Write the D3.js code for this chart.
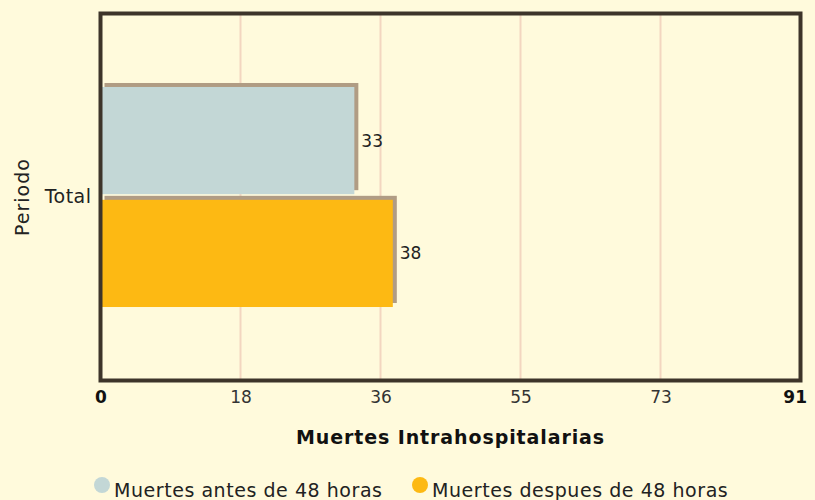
<!DOCTYPE html>
<html lang="es">

<head>
    <meta charset="UTF-8">
    <title>Muertes Intrahospitalarias</title>
    <style>
        body {
            padding: 0;
            margin: 0;
            background: #fffadc;
        }

        text {
            font-family: "DejaVu Sans", Verdana, sans-serif;
            fill: #222;
        }
    </style>
</head>

<body>
    <script src="https://d3js.org/d3.v7.min.js"></script>
    <script>
        // datos
        const categorias = ['Total']
        const series = ['Muertes antes de 48 horas', 'Muertes despues de 48 horas']
        const antes48 = [33]
        const despues48 = [38]
        const ejeMax = 91
        const ticks = [0, 18.2, 36.4, 54.6, 72.8, 91]

        const colores = ['#c3d7d6', '#fdb913']
        const valores = [antes48, despues48]

        const width = 815
        const height = 500
        const margin = { left: 100.5, right: 14.5, top: 13.5, bottom: 119.5 }

        const svg = d3.select('body')
            .append('svg')
            .attr('width', width)
            .attr('height', height)

        svg.append('rect')
            .attr('width', width)
            .attr('height', height)
            .attr('fill', '#fffadc')

        // escalas
        let x = d3.scaleLinear().domain([0, ejeMax]).range([margin.left, width - margin.right])
        let y = d3.scaleBand().domain(categorias)
            .range([margin.top, height - margin.bottom])
            .paddingInner(0).paddingOuter(0.334)
        let ySerie = d3.scaleBand().domain(series).range([0, y.bandwidth()]).paddingInner(0.05)

        // rejilla
        svg.append('g')
            .selectAll('line')
            .data(ticks.slice(1, -1))
            .enter()
            .append('line')
            .attr('x1', d => x(d))
            .attr('x2', d => x(d))
            .attr('y1', margin.top)
            .attr('y2', height - margin.bottom)
            .attr('stroke', '#f3d6c0')
            .attr('stroke-width', 2)

        // barras con sombra
        const filas = []
        categorias.forEach((c, i) => {
            series.forEach((s, j) => {
                filas.push({ cat: c, serie: s, value: valores[j][i], color: colores[j] })
            })
        })

        let barras = svg.append('g')
            .selectAll('g')
            .data(filas)
            .enter()
            .append('g')
            .attr('transform', d => `translate(0,${y(d.cat) + ySerie(d.serie)})`)

        barras.append('rect')
            .attr('x', x(0) + 4)
            .attr('y', -4)
            .attr('width', d => x(d.value) - x(0))
            .attr('height', ySerie.bandwidth())
            .attr('fill', '#b09c84')

        barras.append('rect')
            .attr('x', x(0))
            .attr('y', 0)
            .attr('width', d => x(d.value) - x(0))
            .attr('height', ySerie.bandwidth())
            .attr('fill', d => d.color)

        barras.append('text')
            .attr('x', d => x(d.value) + 7)
            .attr('y', ySerie.bandwidth() / 2)
            .attr('dy', '0.35em')
            .attr('font-size', 17)
            .text(d => d.value)

        // marco
        svg.append('rect')
            .attr('x', margin.left)
            .attr('y', margin.top)
            .attr('width', width - margin.left - margin.right)
            .attr('height', height - margin.top - margin.bottom)
            .attr('fill', 'none')
            .attr('stroke', '#3d342a')
            .attr('stroke-width', 4)

        // eje x
        let ejeX = svg.append('g')
            .attr('transform', `translate(0,${height - margin.bottom})`)
            .call(d3.axisBottom(x).tickValues(ticks).tickFormat(d3.format('.0f')).tickSize(0).tickPadding(10))
        ejeX.select('.domain').remove()
        ejeX.selectAll('text')
            .attr('font-size', 17)
            .attr('font-family', '"DejaVu Sans", Verdana, sans-serif')
            .attr('font-weight', (d, i) => (i === 0 || i === ticks.length - 1) ? 'bold' : 'normal')
            .attr('text-anchor', (d, i) => i === ticks.length - 1 ? 'end' : 'middle')
            .attr('dx', (d, i) => i === ticks.length - 1 ? 6 : 0)
            .style('fill', (d, i) => (i === 0 || i === ticks.length - 1) ? '#111' : '#333')

        // eje y
        let ejeY = svg.append('g')
            .attr('transform', `translate(${margin.left},0)`)
            .call(d3.axisLeft(y).tickSize(0).tickPadding(9))
        ejeY.select('.domain').remove()
        ejeY.selectAll('text')
            .attr('font-size', 19)
            .attr('letter-spacing', 0.5)
            .attr('font-family', '"DejaVu Sans", Verdana, sans-serif')
            .style('fill', '#222')

        // titulos
        svg.append('text')
            .attr('x', (margin.left + width - margin.right) / 2)
            .attr('y', 444)
            .attr('text-anchor', 'middle')
            .attr('font-size', 19)
            .attr('letter-spacing', 0.9)
            .attr('font-weight', 'bold')
            .style('fill', '#111')
            .text('Muertes Intrahospitalarias')

        svg.append('text')
            .attr('transform', 'translate(29,197) rotate(-90)')
            .attr('text-anchor', 'middle')
            .attr('font-size', 19)
            .attr('letter-spacing', 1)
            .text('Periodo')

        // leyenda
        const leyendaX = [102, 420]
        let leyenda = svg.append('g')
            .selectAll('g')
            .data(series)
            .enter()
            .append('g')
            .attr('transform', (d, i) => `translate(${leyendaX[i]},485)`)

        leyenda.append('circle')
            .attr('r', 8)
            .attr('fill', (d, i) => colores[i])

        leyenda.append('text')
            .attr('x', 12)
            .attr('y', 12)
            .attr('font-size', 19)
            .attr('letter-spacing', 0.55)
            .text(d => d)
    </script>
</body>

</html>
